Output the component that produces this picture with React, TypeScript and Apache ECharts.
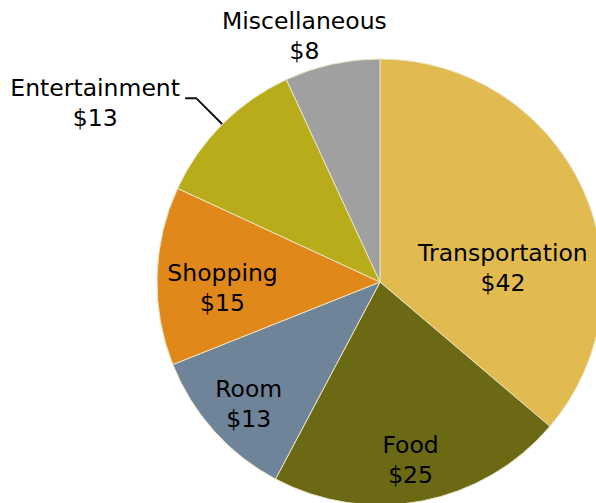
import React, { useEffect, useRef } from 'react';
import * as echarts from 'echarts';

const categories = ['Transportation', 'Food', 'Room', 'Shopping', 'Entertainment', 'Miscellaneous'];
const values = [42, 25, 13, 15, 13, 8];
const colors = ['#E1BB50', '#6B6914', '#6F8399', '#E0881A', '#B8AC1A', '#A0A0A0'];
// nudges (px) applied to ECharts' own inside label positions
const labelShift: (number[] | null)[] = [[19, 34], [9, 66], [-46, 46], [-43, 9], null, [-51, -134]];
const outsideLabel = [false, false, false, false, true, false];

export default function App() {
  const ref = useRef<HTMLDivElement>(null);
  useEffect(() => {
    if (!ref.current) return;
    const chart = echarts.init(ref.current, null, { renderer: 'svg' });
    const textStyle = {
      fontFamily: 'DejaVu Sans',
      fontSize: 23.5,
      lineHeight: 30,
      color: '#000000',
    };
    chart.setOption({
      animation: false,
      backgroundColor: '#ffffff',
      series: [
        {
          type: 'pie',
          center: [380, 282],
          radius: 223,
          startAngle: 90,
          clockwise: true,
          avoidLabelOverlap: false,
          emphasis: { disabled: true },
          itemStyle: { borderColor: '#ece3c4', borderWidth: 1 },
          label: {
            show: true,
            position: 'inside',
            ...textStyle,
            formatter: (p: any) => p.name + '\n$' + p.value,
          },
          labelLine: { show: false },
          labelLayout: (p: any) => {
            const s = labelShift[p.dataIndex];
            return s ? { dx: s[0], dy: s[1] } : {};
          },
          data: categories.map((name, i) => {
            const item: any = { name, value: values[i], itemStyle: { color: colors[i] } };
            if (outsideLabel[i]) {
              item.label = {
                position: 'outside',
                padding: [10, 0, 0, 0],
                formatter: (p: any) => '{c|' + p.name + '}\n{c|$' + p.value + '}',
                rich: { c: { ...textStyle, width: 170, align: 'center' } },
              };
              item.labelLine = {
                show: true,
                length: 37,
                length2: 11,
                lineStyle: { color: '#111111', width: 2 },
              };
            }
            return item;
          }),
        },
      ],
    });
    return () => chart.dispose();
  }, []);
  return (
    <div
      ref={ref}
      style={{ position: 'fixed', left: 0, top: 0, width: 596, height: 503 }}
    />
  );
}
